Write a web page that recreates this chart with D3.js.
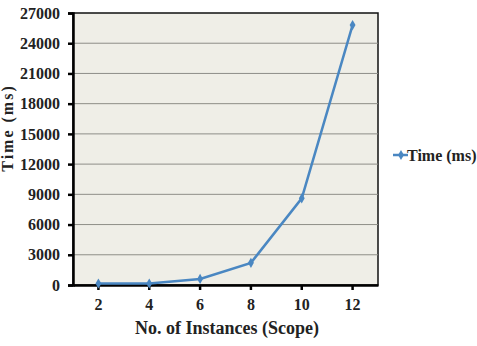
<!DOCTYPE html>
<meta charset="utf-8">
<script src="https://d3js.org/d3.v7.min.js"></script>
<style>
    body { margin: 0; background: #fff; }
    text { font-family: "Liberation Serif", "DejaVu Serif", serif; font-weight: bold; }
</style>
<div id="my_dataviz"></div>
<script>
    // data
    const instances = ["2", "4", "6", "8", "10", "12"];
    const timeMs = [150, 150, 600, 2200, 8600, 25800];
    const yTicks = [0, 3000, 6000, 9000, 12000, 15000, 18000, 21000, 24000, 27000];
    const seriesName = "Time (ms)";

    const margin = { top: 13, right: 99, bottom: 61, left: 73 },
        width = 477 - margin.left - margin.right,
        height = 346 - margin.top - margin.bottom;

    const svg = d3.select("#my_dataviz")
        .append("svg")
        .attr("width", 477)
        .attr("height", 346);

    const g = svg.append("g")
        .attr("transform", `translate(${margin.left},${margin.top})`);

    // plot background
    g.append("rect")
        .attr("width", width)
        .attr("height", height)
        .attr("fill", "#efeee7")
        .attr("stroke", "#111")
        .attr("stroke-width", 1.5);

    const x = d3.scaleBand()
        .domain(instances)
        .range([0, width]);

    const y = d3.scaleLinear()
        .domain([0, 27000])
        .range([height, 0]);

    // gridlines
    g.selectAll(".grid")
        .data(yTicks.slice(1, -1))
        .enter()
        .append("line")
        .attr("x1", 0)
        .attr("x2", width)
        .attr("y1", d => y(d))
        .attr("y2", d => y(d))
        .attr("stroke", "#8e8e88")
        .attr("stroke-width", 1);

    // Y axis
    const yAxis = g.append("g")
        .call(d3.axisLeft(y).tickValues(yTicks).tickFormat(d3.format("d")).tickSize(5).tickPadding(8));
    yAxis.attr("font-family", null).attr("font-size", null);
    yAxis.select(".domain").attr("stroke", "#000").attr("stroke-width", 2.5);
    yAxis.selectAll(".tick line").attr("stroke", "#000").attr("stroke-width", 2.5);
    yAxis.selectAll("text")
        .style("font-size", "16px")
        .attr("fill", "#222");

    // X axis
    const xAxis = g.append("g")
        .attr("transform", `translate(0,${height})`)
        .call(d3.axisBottom(x).tickSize(5).tickPadding(9).tickSizeOuter(0));
    xAxis.attr("font-family", null).attr("font-size", null);
    xAxis.select(".domain").attr("stroke", "#000").attr("stroke-width", 2.5);
    xAxis.selectAll(".tick line").attr("stroke", "#000").attr("stroke-width", 2.5);
    xAxis.selectAll("text")
        .style("font-size", "16px")
        .attr("fill", "#222");

    // line
    const cx = d => x(d) + x.bandwidth() / 2;
    g.append("path")
        .datum(instances)
        .attr("fill", "none")
        .attr("stroke", "#4a87c2")
        .attr("stroke-width", 2.5)
        .attr("d", d3.line()
            .x(d => cx(d))
            .y((d, i) => y(timeMs[i])));

    // diamond markers
    const diamond = d3.symbol().type(d3.symbolDiamond).size(30);
    g.selectAll(".dot")
        .data(instances)
        .enter()
        .append("path")
        .attr("d", diamond)
        .attr("transform", (d, i) => `translate(${cx(d)},${y(timeMs[i])})`)
        .attr("fill", "#4a87c2");

    // axis titles
    svg.append("text")
        .attr("x", 227)
        .attr("y", 334)
        .attr("text-anchor", "middle")
        .style("font-size", "18px")
        .attr("fill", "#222")
        .text("No. of Instances (Scope)");

    svg.append("text")
        .attr("transform", "translate(13,128) rotate(-90)")
        .attr("text-anchor", "middle")
        .style("font-size", "16px")
        .style("letter-spacing", "2px")
        .attr("fill", "#222")
        .text(seriesName);

    // legend
    const legend = svg.append("g").attr("transform", "translate(393,155)");
    legend.append("line")
        .attr("x1", 0).attr("x2", 15)
        .attr("stroke", "#4a87c2").attr("stroke-width", 2.5);
    legend.append("path")
        .attr("d", diamond)
        .attr("transform", "translate(8,0)")
        .attr("fill", "#4a87c2");
    legend.append("text")
        .attr("x", 14)
        .attr("dy", "0.35em")
        .style("font-size", "16px")
        .attr("fill", "#222")
        .text(seriesName);
</script>
